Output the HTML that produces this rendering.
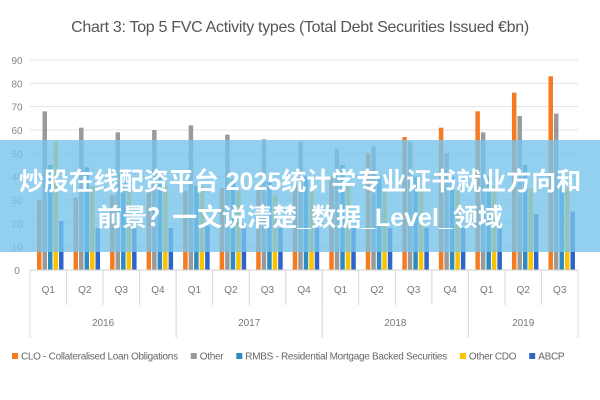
<!DOCTYPE html>
<html><head><meta charset="utf-8"><style>
body{margin:0;width:600px;height:400px;background:#fff;overflow:hidden;font-family:"Liberation Sans","Noto Sans CJK SC",sans-serif}
svg{position:absolute;left:0;top:0}
#band{position:absolute;left:0;top:140px;width:600px;height:112px;background:rgba(120,195,235,0.8);color:#fff;font-weight:bold;font-size:25px;text-align:center;line-height:36px;padding-top:24px;box-sizing:border-box;white-space:nowrap;font-family:"Liberation Sans","Noto Sans CJK SC",sans-serif}
</style></head><body>
<svg id="chart" width="600" height="400"></svg>
<div id="band">炒股在线配资平台 2025统计学专业证书就业方向和<br>前景？一文说清楚_数据_Level_领域</div>
<script>
const categories=["Q1","Q2","Q3","Q4","Q1","Q2","Q3","Q4","Q1","Q2","Q3","Q4","Q1","Q2","Q3"];
const years=["2016","2017","2018","2019"];
const yearCounts=[4,4,4,3];
const clo=[30,31,32,34,34,35,36,38,40,50,57,61,68,76,83];
const other=[68,61,59,60,62,58,56,55,52,53,55,50,59,66,67];
const rmbs=[45,44,38,40,36,39,38,40,45,40,40,40,40,45,40];
const otherCdo=[55,36,34,36,36,34,32,34,36,34,35,34,36,35,35];
const abcp=[21,18,18,18,19,20,18,18,18,18,18,18,20,24,25];
const yTicks=[0,10,20,30,40,50,60,70,80,90];
const seriesNames=["CLO - Collateralised Loan Obligations","Other","RMBS - Residential Mortgage Backed Securities","Other CDO","ABCP"];
const series=[clo,other,rmbs,otherCdo,abcp];
const colors=["#f47b20","#9a9a9a","#2e8bc0","#f9c300","#2f64c8"];
const NS="http://www.w3.org/2000/svg";
const svg=document.getElementById('chart');
const x0=30,x1=578,y0=270,yTop=60;
const gw=(x1-x0)/categories.length;
const yS=v=>y0-(v/90)*(y0-yTop);
function mk(t,a,txt){const e=document.createElementNS(NS,t);for(const k in a)e.setAttribute(k,a[k]);if(txt!==undefined)e.textContent=txt;svg.appendChild(e);return e;}
const title=mk('text',{x:300,y:32,'text-anchor':'middle','font-size':16,fill:'#555','letter-spacing':'-0.3'},'Chart 3: Top 5 FVC Activity types (Total Debt Securities Issued €bn)');


yTicks.forEach(t=>{
  const g=mk('line',{x1:x0,x2:x1,y1:yS(t),y2:yS(t),stroke:'#e3e3e3','stroke-width':1});
  
  
  const l=mk('text',{x:17,y:yS(t)+4,'text-anchor':'middle','font-size':10,fill:'#888'},t);
  
  
});
const bw=4.5;
series.forEach((s,si)=>{
  s.forEach((v,i)=>{
    const cx=x0+gw*i+7+si*5.5;
    const r=mk('rect',{x:cx,y:yS(v),width:bw,height:y0-yS(v),fill:colors[si]});
    
    
  });
});
mk('line',{x1:x0,x2:x1,y1:y0,y2:y0,stroke:'#d0d0d0'});
categories.forEach((c,i)=>{
  const l=mk('text',{x:x0+gw*(i+0.5),y:293,'text-anchor':'middle','font-size':10,fill:'#777'},c);
  
  
  mk('line',{x1:x0+gw*i,x2:x0+gw*i,y1:y0,y2:305,stroke:'#d8d8d8'});
});
let acc=0;
years.forEach((yr,j)=>{
  mk('line',{x1:x0+gw*acc,x2:x0+gw*acc,y1:y0,y2:338,stroke:'#d8d8d8'});
  const l=mk('text',{x:x0+gw*(acc+yearCounts[j]/2),y:326,'text-anchor':'middle','font-size':10,fill:'#777'},yr);
  
  
  acc+=yearCounts[j];
});
mk('line',{x1:x1,x2:x1,y1:y0,y2:338,stroke:'#d8d8d8'});
let lx=12;
seriesNames.forEach((n,si)=>{
  const r=mk('rect',{x:lx,y:353,width:6,height:6,fill:colors[si]});
  
  
  const t=mk('text',{x:lx+9,y:359.5,'font-size':10,fill:'#666','letter-spacing':'-0.3'},n);
  
  
  lx+=t.getComputedTextLength()+22;
});
</script>
</body></html>
